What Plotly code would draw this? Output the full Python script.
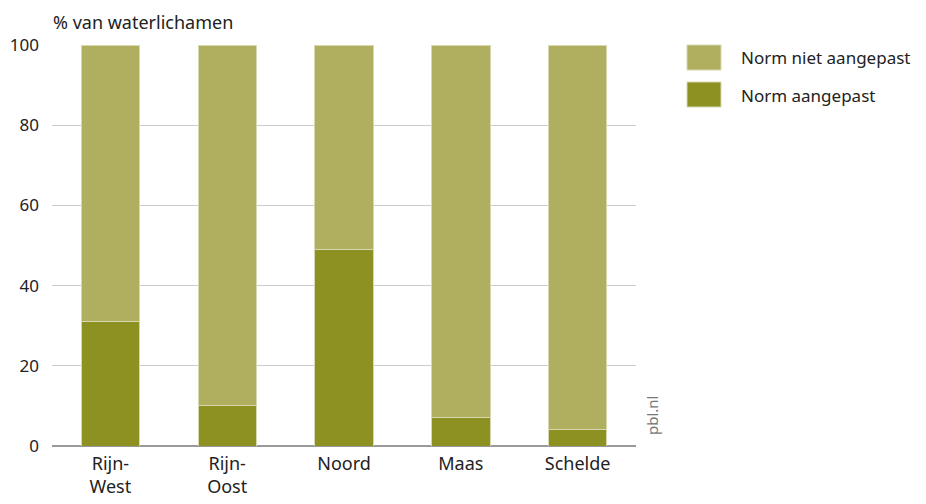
import plotly.graph_objects as go

categories = ["Rijn-<br>West", "Rijn-<br>Oost", "Noord", "Maas", "Schelde"]
norm_aangepast = [31, 10, 49, 7, 4]
norm_niet_aangepast = [69, 90, 51, 93, 96]
series_names = ["Norm niet aangepast", "Norm aangepast"]
colors = ["#afaf5f", "#8c9122"]
y_ticks = [0, 20, 40, 60, 80, 100]

FONT = "Noto Sans, Open Sans, sans-serif"

# plot area in screen pixels (page has an 8px body margin)
PL, PR, PT, PB = 52, 636, 45, 446
PW, PH = PR - PL, PB - PT


def fx(px):
    return (px - PL) / PW


def fy(py):
    return (PB - py) / PH


fig = go.Figure()
fig.add_trace(go.Bar(x=categories, y=norm_aangepast, name=series_names[1],
                     marker=dict(color=colors[1], line=dict(color="#d8d8b0", width=1)),
                     width=0.5, showlegend=False))
fig.add_trace(go.Bar(x=categories, y=norm_niet_aangepast, name=series_names[0],
                     marker=dict(color=colors[0], line=dict(color="#d8d8b0", width=1)),
                     width=0.5, showlegend=False))

# manual legend
legend_tops = [45, 82]
for top, nm, col in zip(legend_tops, series_names, colors):
    fig.add_shape(type="rect", xref="paper", yref="paper",
                  x0=fx(687), x1=fx(721), y0=fy(top + 25), y1=fy(top),
                  fillcolor=col, line=dict(color="#d8d8b0", width=1))
    fig.add_annotation(text=nm, xref="paper", yref="paper",
                       x=fx(739), y=fy(top + 13), xanchor="left", yanchor="middle",
                       showarrow=False, font=dict(size=17, color="#222", family=FONT))

fig.add_annotation(text="% van waterlichamen", xref="paper", yref="paper",
                   x=fx(52), y=fy(9), xanchor="left", yanchor="top", borderpad=0,
                   showarrow=False, font=dict(size=18, color="#222", family=FONT))
fig.add_annotation(text="pbl.nl", xref="paper", yref="paper",
                   x=fx(652), y=fy(416), textangle=-90,
                   xanchor="center", yanchor="middle", showarrow=False,
                   font=dict(size=15, color="#777", family=FONT))

fig.update_layout(
    width=926, height=504,
    margin=dict(l=PL - 8, r=926 - (PR - 8), t=PT - 8, b=504 - (PB - 8)),
    barmode="stack",
    plot_bgcolor="white", paper_bgcolor="white",
    font=dict(family=FONT, size=18, color="#222"),
    xaxis=dict(showgrid=False, showline=False, ticks="", tickfont=dict(size=18),
               range=[-0.5, 4.5], automargin=False, ticklabelstandoff=5),
    yaxis=dict(range=[0, 100], tickvals=y_ticks, showgrid=True, gridcolor="#cccccc",
               gridwidth=1, zeroline=True, zerolinecolor="#999999", zerolinewidth=1.5,
               tickfont=dict(size=17), ticks="", ticklabelstandoff=12, automargin=False),
)

fig.write_html("out.html")
